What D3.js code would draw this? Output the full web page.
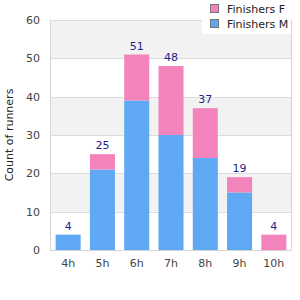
<!DOCTYPE html>
<html>
<head>
<meta charset="utf-8">
<script src="https://cdn.jsdelivr.net/npm/d3@7"></script>
<style>
  body { margin: 0; background: #fff; }
  text { font-family: "DejaVu Sans", sans-serif; }
</style>
</head>
<body>
<div id="chart"></div>
<script>
// data
const categories = ["4h", "5h", "6h", "7h", "8h", "9h", "10h"];
const finishersM = [4, 21, 39, 30, 24, 15, 0];
const finishersF = [0, 4, 12, 18, 13, 4, 4];
const yTicks = [0, 10, 20, 30, 40, 50, 60];

const colorM = "#5fa8f3";
const colorF = "#f283bb";

const width = 300;
const height = 300;
const margin = { top: 20, right: 9, bottom: 50, left: 50 };

const svg = d3.select("#chart")
    .append("svg")
    .attr("width", width)
    .attr("height", height);

const x = d3.scaleBand()
    .domain(categories)
    .range([margin.left + 1, width - margin.right])
    .paddingInner(0.27)
    .paddingOuter(0.135);

const y = d3.scaleLinear()
    .domain([0, 60])
    .range([height - margin.bottom, margin.top]);

// alternating bands
for (let i = 0; i < yTicks.length - 1; i++) {
    svg.append("rect")
        .attr("x", margin.left)
        .attr("y", y(yTicks[i + 1]))
        .attr("width", width - margin.right - margin.left)
        .attr("height", y(yTicks[i]) - y(yTicks[i + 1]))
        .attr("fill", i % 2 === 1 ? "#f2f2f2" : "#fff");
}

// grid lines
svg.selectAll(".grid")
    .data(yTicks)
    .enter().append("line")
    .attr("x1", margin.left)
    .attr("x2", width - margin.right)
    .attr("y1", d => Math.round(y(d)) + 0.5)
    .attr("y2", d => Math.round(y(d)) + 0.5)
    .attr("stroke", "#dcdcdc");

// frame
svg.append("path")
    .attr("d", `M${margin.left + 0.5},${margin.top} V${height - margin.bottom + 0.5} H${width - margin.right + 0.5} V${margin.top}`)
    .attr("fill", "none")
    .attr("stroke", "#d4d4d4");

// bars
const rows = categories.map((c, i) => ({ cat: c, m: finishersM[i], f: finishersF[i] }));

svg.selectAll(".barM")
    .data(rows)
    .enter().append("rect")
    .attr("x", d => x(d.cat))
    .attr("width", x.bandwidth())
    .attr("y", d => y(d.m))
    .attr("height", d => y(0) - y(d.m))
    .attr("fill", colorM);

svg.selectAll(".barF")
    .data(rows)
    .enter().append("rect")
    .attr("x", d => x(d.cat))
    .attr("width", x.bandwidth())
    .attr("y", d => y(d.m + d.f))
    .attr("height", d => y(d.m) - y(d.m + d.f))
    .attr("fill", colorF);

// totals
svg.selectAll(".total")
    .data(rows)
    .enter().append("text")
    .attr("x", d => x(d.cat) + x.bandwidth() / 2)
    .attr("y", d => y(d.m + d.f) - 5)
    .attr("text-anchor", "middle")
    .attr("font-size", 11)
    .attr("fill", "#1f1f8f")
    .text(d => d.m + d.f);

// y axis labels
svg.selectAll(".ytick")
    .data(yTicks)
    .enter().append("text")
    .attr("x", 40)
    .attr("y", d => y(d))
    .attr("dy", "0.35em")
    .attr("text-anchor", "end")
    .attr("font-size", 11)
    .attr("fill", "#444")
    .text(d => d);

// x axis labels
svg.selectAll(".xtick")
    .data(categories)
    .enter().append("text")
    .attr("x", d => x(d) + x.bandwidth() / 2)
    .attr("y", 267)
    .attr("text-anchor", "middle")
    .attr("font-size", 11)
    .attr("fill", "#444")
    .text(d => d);

// y axis title
svg.append("text")
    .attr("transform", `translate(9,${(margin.top + height - margin.bottom) / 2}) rotate(-90)`)
    .attr("text-anchor", "middle")
    .attr("dy", "0.35em")
    .attr("font-size", 11)
    .attr("fill", "#222")
    .text("Count of runners");

// legend
const legend = svg.append("g");
legend.append("rect")
    .attr("x", 202)
    .attr("y", 0)
    .attr("width", 89)
    .attr("height", 34)
    .attr("fill", "#fff");

const legendItems = [
    { label: "Finishers F", color: colorF },
    { label: "Finishers M", color: colorM }
];

legendItems.forEach((d, i) => {
    legend.append("rect")
        .attr("x", 210.5)
        .attr("y", 4.5 + i * 15)
        .attr("width", 8)
        .attr("height", 8)
        .attr("fill", d.color)
        .attr("stroke", "#777");
    legend.append("text")
        .attr("x", 227)
        .attr("y", 9 + i * 15)
        .attr("dy", "0.35em")
        .attr("font-size", 11)
        .attr("fill", "#222")
        .text(d.label);
});
</script>
</body>
</html>
